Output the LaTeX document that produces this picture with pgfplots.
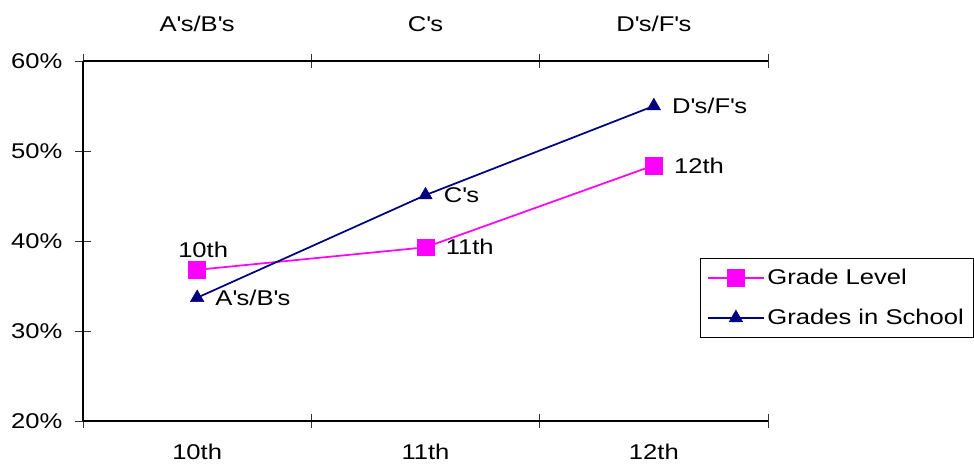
\documentclass[border=0pt]{standalone}
\usepackage{fontspec}
\setmainfont{Liberation Sans}[FakeStretch=1.2]
\usepackage{pgfplots}
\pgfplotsset{compat=1.18}
\definecolor{navyc}{RGB}{0,0,128}
\definecolor{magc}{RGB}{255,0,255}
\newcommand\cf{\fontsize{16}{19}\selectfont}
\newcommand\q{\textquotesingle}

\pgfplotsset{
 lbl/.style n args={3}{draw=none, mark=none, forget plot,
  nodes near coords, point meta=explicit symbolic,
  every node near coord/.style={anchor=#1, xshift=#2, yshift=#3, inner sep=0pt, font=\cf, text=black}},
 glstyle/.style={magc, line width=1.3pt, mark=square*, mark size=6.3pt, mark options={fill=magc, draw=magc, line width=0.4pt}},
 gsstyle/.style={navyc, line width=1.3pt, mark=triangle*, mark size=5.8pt, mark options={fill=navyc, draw=navyc, line width=0.4pt}},
}

\begin{document}
\begin{tikzpicture}
\path[use as bounding box] (-62.25pt,-33pt) rectangle ++(730.5pt,348.75pt);
\begin{axis}[
  at={(0,0)}, anchor=south west,
  scale only axis, width=513.75pt, height=270pt,
  xmin=0, xmax=3, ymin=20, ymax=60,
  clip=false,
  axis x line=box, axis y line=left,
  axis line style={-, black, line width=0.8pt},
  xtick={0.5,1.5,2.5}, xticklabels={10th,11th,12th},
  minor xtick={0,1,2,3},
  every major x tick/.append style={draw=none},
  ytick={20,30,40,50,60},
  yticklabel={\pgfmathprintnumber{\tick}\%},
  ytick pos=left,
  tick align=center,
  major tick length=12pt, minor tick length=10.5pt,
  tick style={black!80, line width=0.7pt},
  /pgf/number format/assume math mode=true,
  ticklabel style={font=\cf, text=black},
  xticklabel style={anchor=base, yshift=-22.5pt},
  yticklabel style={anchor=east, xshift=-6pt},
  legend style={at={(0.9007,0.4528)}, anchor=north west, draw=black, line width=0.6pt,
    font=\cf, legend cell align=left, inner xsep=5pt, inner ysep=6pt, row sep=13pt},
  legend image code/.code={\draw[mark repeat=2,mark phase=2] plot coordinates {(0pt,0pt) (21pt,0pt) (42pt,0pt)};},
]
\addplot[glstyle] coordinates {(0.5,36.8) (1.5,39.3) (2.5,48.4)};
\addlegendentry{Grade Level}
\addplot[gsstyle] coordinates {(0.5,33.7) (1.5,45.1) (2.5,55.0)};
\addlegendentry{Grades in School}
% data labels
\addplot[lbl={south}{4.5pt}{9pt}] coordinates {(0.5,36.8) [10th]};
\addplot[lbl={west}{15pt}{0pt}] coordinates {(1.5,39.3) [11th] (2.5,48.4) [12th]};
\addplot[lbl={west}{13.5pt}{0pt}] coordinates {(0.5,33.7) [A\q s/B\q s] (1.5,45.1) [C\q s] (2.5,55.0) [D\q s/F\q s]};
\node[anchor=base, font=\cf] at (axis cs:0.5,60) [yshift=22pt] {A\q s/B\q s};
\node[anchor=base, font=\cf] at (axis cs:1.5,60) [yshift=22pt] {C\q s};
\node[anchor=base, font=\cf] at (axis cs:2.5,60) [yshift=22pt] {D\q s/F\q s};
\end{axis}
\end{tikzpicture}
\end{document}
